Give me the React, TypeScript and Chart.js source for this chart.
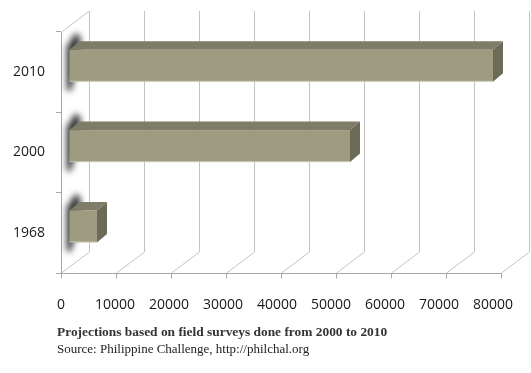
import React, { useEffect, useRef } from 'react';
import { Chart, registerables } from 'chart.js';

Chart.register(...registerables);

const categories = ['2010', '2000', '1968'];
const values = [77000, 51000, 5000];
const xMin = 0;
const xMax = 80000;
const xStep = 10000;
const noteText = 'Projections based on field surveys done from 2000 to 2010';
const sourceText = 'Source: Philippine Challenge, http://philchal.org';

const K = 55 / 54; // perspective stretch of front plane vs label row
const WALL_DX = 28;
const WALL_DY = 21;
const BAR_DX0 = 8.5;
const BAR_DY0 = -6.4;
const BAR_DX1 = 10;
const BAR_DY1 = -8.5;
const GRID = '#c4c4c4';
const AXIS = '#a8a8a8';
const FRONT = '#9e9b80';
const TOP = '#7e7c66';
const SIDE = '#6c6b57';

const depthPlugin = {
  id: 'depth3d',
  beforeDatasetsDraw(chart: any) {
    const { ctx, chartArea: a, scales } = chart;
    const x = scales.x;
    const L = x.getPixelForValue(xMin);
    const F = (v: number) => L + (x.getPixelForValue(v) - L) * K;
    ctx.save();
    ctx.lineWidth = 1;
    ctx.strokeStyle = GRID;
    ctx.beginPath();
    for (let v = xMin; v <= xMax; v += xStep) {
      const fx = Math.round(F(v)) + 0.5;
      const bx = fx + WALL_DX;
      ctx.moveTo(bx, a.top - WALL_DY);
      ctx.lineTo(bx, a.bottom - WALL_DY);
      ctx.moveTo(fx, a.bottom);
      ctx.lineTo(bx, a.bottom - WALL_DY);
    }
    const lx = Math.round(a.left) + 0.5;
    ctx.moveTo(lx, a.top);
    ctx.lineTo(lx + WALL_DX, a.top - WALL_DY);
    ctx.stroke();
    ctx.strokeStyle = AXIS;
    ctx.beginPath();
    const by = Math.round(a.bottom) + 0.5;
    ctx.moveTo(Math.round(F(xMin)), by);
    ctx.lineTo(Math.round(F(xMax)) + 1, by);
    for (let v = xMin; v <= xMax; v += xStep) {
      const fx = Math.round(F(v)) + 0.5;
      ctx.moveTo(fx, by);
      ctx.lineTo(fx, by + 5);
    }
    ctx.stroke();
    ctx.restore();
  },
  afterDatasetsDraw(chart: any) {
    const { ctx, scales } = chart;
    const x = scales.x;
    const L = x.getPixelForValue(xMin);
    const F = (p: number) => L + (p - L) * K;
    const meta = chart.getDatasetMeta(0);
    ctx.save();
    meta.data.forEach((el: any) => {
      const p = el.getProps(['x', 'y', 'base', 'height'], true);
      const xl = F(p.base) + BAR_DX0;
      const xr = F(p.x) + BAR_DX0;
      const yt = p.y - p.height / 2 + BAR_DY0;
      const yb = p.y + p.height / 2 + BAR_DY0;
      // shadow on the left wall
      ctx.save();
      ctx.filter = 'blur(3px)';
      ctx.fillStyle = 'rgba(25,22,22,0.85)';
      ctx.beginPath();
      ctx.moveTo(xl - 3, yt - 3);
      ctx.lineTo(xl + 6, yt - 17);
      ctx.lineTo(xl + 11, yt - 13);
      ctx.lineTo(xl + 11, yt + 10);
      ctx.lineTo(xl + 1, yb + 10);
      ctx.lineTo(xl - 3, yb + 8);
      ctx.closePath();
      ctx.fill();
      ctx.restore();
      // top face
      ctx.fillStyle = TOP;
      ctx.beginPath();
      ctx.moveTo(xl, yt);
      ctx.lineTo(xl + BAR_DX1, yt + BAR_DY1);
      ctx.lineTo(xr + BAR_DX1, yt + BAR_DY1);
      ctx.lineTo(xr, yt);
      ctx.closePath();
      ctx.fill();
      // side face
      ctx.fillStyle = SIDE;
      ctx.beginPath();
      ctx.moveTo(xr, yt);
      ctx.lineTo(xr + BAR_DX1, yt + BAR_DY1);
      ctx.lineTo(xr + BAR_DX1, yb + BAR_DY1);
      ctx.lineTo(xr, yb);
      ctx.closePath();
      ctx.fill();
      // front face
      ctx.fillStyle = FRONT;
      ctx.fillRect(xl, yt, xr - xl, yb - yt);
      ctx.fillStyle = 'rgba(255,255,240,0.45)';
      ctx.fillRect(xl, yb - 1, xr - xl, 1);
    });
    ctx.restore();
  },
};

export default function App() {
  const ref = useRef<HTMLCanvasElement | null>(null);
  useEffect(() => {
    if (!ref.current) return;
    const chart = new Chart(ref.current, {
      type: 'bar',
      data: {
        labels: categories,
        datasets: [
          {
            data: values,
            backgroundColor: 'rgba(0,0,0,0)',
            borderWidth: 0,
            barThickness: 32,
          },
        ],
      },
      options: {
        indexAxis: 'y',
        responsive: false,
        animation: false,
        devicePixelRatio: 1,
        layout: { padding: { top: 32, right: 38, left: 0, bottom: 0 } },
        plugins: {
          legend: { display: false },
          tooltip: { enabled: false },
          title: { display: false },
        },
        scales: {
          x: {
            min: xMin,
            max: xMax,
            grid: { display: false },
            border: { display: false },
            ticks: {
              stepSize: xStep,
              padding: 16,
              color: '#1a1a1a',
              font: { family: 'Open Sans', size: 14 },
              callback: (v: any) => String(v),
              maxRotation: 0,
            },
            afterFit: (s: any) => {
              s.height = 100;
            },
          },
          y: {
            grid: {
              display: true,
              drawOnChartArea: false,
              drawTicks: true,
              tickLength: 5,
              color: AXIS,
              offset: true,
            },
            border: { display: true, color: AXIS },
            ticks: {
              padding: 11,
              color: '#1a1a1a',
              font: { family: 'Open Sans', size: 14 },
            },
            afterFit: (s: any) => {
              s.width = 61;
            },
          },
        },
      },
      plugins: [depthPlugin],
    });
    return () => chart.destroy();
  }, []);

  return (
    <div style={{ position: 'absolute', left: 0, top: 0, width: 531, height: 373, background: '#fff' }}>
      <canvas ref={ref} width={531} height={373} style={{ display: 'block' }} />
      <div
        style={{
          position: 'absolute',
          left: 57,
          top: 323,
          fontFamily: '"Liberation Serif", serif',
          fontWeight: 'bold',
          fontSize: 13.4,
          lineHeight: '17px',
          color: '#333',
          whiteSpace: 'nowrap',
        }}
      >
        {noteText}
      </div>
      <div
        style={{
          position: 'absolute',
          left: 57,
          top: 340,
          fontFamily: '"Liberation Serif", serif',
          fontSize: 13,
          lineHeight: '17px',
          color: '#222',
          whiteSpace: 'nowrap',
        }}
      >
        {sourceText}
      </div>
    </div>
  );
}
